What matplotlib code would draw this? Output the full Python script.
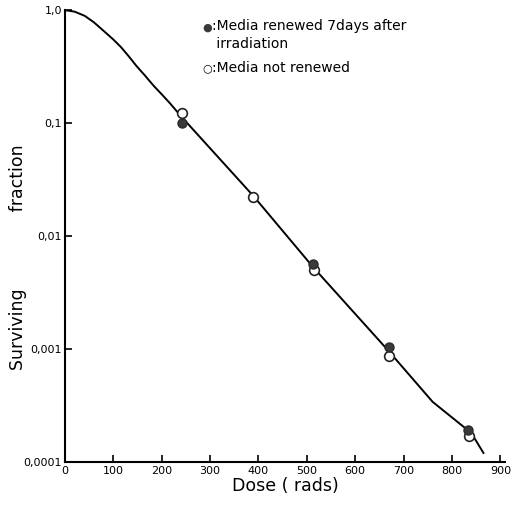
import numpy as np
import matplotlib
matplotlib.use("Agg")
import matplotlib.pyplot as plt

# survival curve
curve_dose = [0, 20, 41, 60, 81, 100, 116, 132, 148, 165, 183, 200, 217, 240,
              390, 513, 668, 760, 840, 865]
curve_sf = [1.0, 0.97, 0.89, 0.78, 0.65, 0.55, 0.47, 0.39, 0.32, 0.265, 0.215,
            0.18, 0.15, 0.115, 0.0225, 0.0053, 0.00097, 0.00034, 0.00018, 0.00012]

# media renewed 7 days after irradiation (filled)
renewed_dose = [241, 513, 669, 834]
renewed_sf = [0.1, 0.0056, 0.00104, 0.00019]

# media not renewed (open)
not_renewed_dose = [241, 389, 514, 670, 836]
not_renewed_sf = [0.122, 0.0221, 0.0050, 0.00087, 0.00017]

xticks = [0, 100, 200, 300, 400, 500, 600, 700, 800, 900]
yticks = [0.0001, 0.001, 0.01, 0.1, 1.0]
ytick_labels = ["0,0001", "0,001", "0,01", "0,1", "1,0"]

fig = plt.figure(figsize=(5.15, 5.07), dpi=100)
ax = fig.add_axes([0.126, 0.089, 0.855, 0.891])

ax.plot(curve_dose, curve_sf, color="black", lw=1.4, zorder=2)
ax.plot(not_renewed_dose, not_renewed_sf, "o", mfc="white", mec="#222222",
        ms=7, mew=1.2, zorder=4)
ax.plot(renewed_dose, renewed_sf, "o", mfc="#3a3a3a", mec="#2a2a2a", ms=6.5,
        mew=1.0, zorder=5)

ax.set_yscale("log")
ax.set_xlim(0, 910)
ax.set_ylim(0.0001, 1.0)
ax.set_xticks(xticks)
ax.set_xticklabels([str(t) for t in xticks], fontsize=8)
ax.set_yticks(yticks)
ax.set_yticklabels(ytick_labels, fontsize=8)
ax.minorticks_off()
ax.tick_params(direction="in", length=5, width=1.2, pad=3)
ax.tick_params(axis="y", pad=2)
for s in ["top", "right"]:
    ax.spines[s].set_visible(False)
for s in ["left", "bottom"]:
    ax.spines[s].set_linewidth(1.5)

ax.set_xlabel("Dose ( rads)", fontsize=12.5, labelpad=1)
fig.text(0.035, 0.493, "Surviving              fraction", rotation=90,
         fontsize=12.5, ha="center", va="center")

# legend drawn as text like the original
fig.text(0.402, 0.945, "\u25cf", fontsize=8, color="#3a3a3a", ha="center", va="center")
fig.text(0.412, 0.963, ":Media renewed 7days after\n irradiation", fontsize=10,
         ha="left", va="top", linespacing=1.35)
fig.text(0.402, 0.866, "\u25cb", fontsize=8, ha="center", va="center")
fig.text(0.412, 0.866, ":Media not renewed", fontsize=10, ha="left", va="center")

fig.savefig("out.png", dpi=100)
